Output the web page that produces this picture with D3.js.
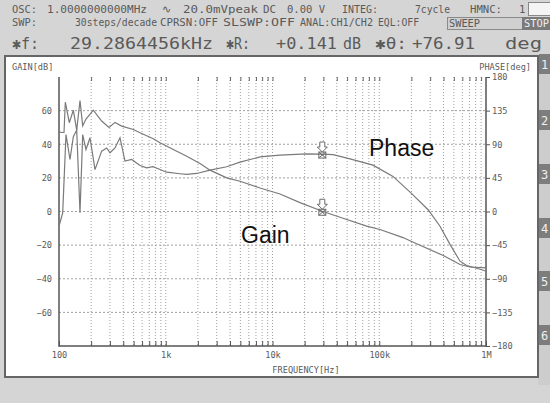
<!DOCTYPE html>
<html>
<head>
<meta charset="utf-8">
<script src="https://cdn.jsdelivr.net/npm/d3@7/dist/d3.min.js"></script>
<style>
  html, body { margin: 0; padding: 0; background: #d5d5d5; }
  svg { display: block; }
  text { font-family: "DejaVu Sans Mono", monospace; }
  text.trace-name { font-family: "Liberation Sans", Arial, sans-serif; }
</style>
</head>
<body>
<svg id="chart" width="550" height="403"></svg>
<script>
// Gain trace: sweep frequency (Hz) and measured gain (dB)
const gainFreq = [100, 106.7, 111.4, 114.6, 124.9, 136.2, 146.5, 157.3, 166.7, 179, 209.6, 251, 294, 334.6, 386.7, 496.6, 573.8, 764.4, 883.5, 1177, 1572, 2094, 2597, 3724, 4962, 7637, 11760, 18095, 29286.4456, 42880, 76270, 101600, 166900, 208400, 398100, 570700, 708300, 1000000];
const gainDb   = [47.4, 47, 47, 65, 52.8, 60.3, 48.4, 66, 51, 55, 60.3, 53.8, 50, 53, 50.8, 48.8, 46.8, 43.3, 40.9, 36.9, 32.9, 28.6, 24.6, 20, 18, 14, 10.4, 5.3, 0.141, -3.4, -8.7, -10.7, -15.5, -18.3, -26.2, -31.5, -33, -33.5];

// Phase trace: sweep frequency (Hz) and measured phase (deg)
const phaseFreq = [100, 108.3, 116.3, 126.8, 136.2, 146.5, 157.3, 166.7, 179, 195.2, 217.4, 251, 279.8, 300.5, 334.6, 372.7, 415.2, 479.7, 573.8, 663, 759.5, 883.5, 1021, 1360, 1572, 1949, 2597, 3724, 4962, 7637, 11760, 20910, 29286.4456, 36870, 53210, 87400, 134500, 201400, 288100, 370700, 460100, 570700, 659500, 734600, 911300, 1000000];
const phaseDeg  = [-19.7, -1.8, 103, 69.6, 100, 109, -1.8, 103, 83, 98.7, 56, 80.8, 85, 78.6, 85, 98.7, 67.4, 69.6, 61.6, 58.5, 59.9, 56.2, 52.6, 50.5, 49.6, 50.9, 55.3, 59.9, 66, 73, 75.5, 77, 76.91, 76, 70.5, 62, 47, 24, 2, -19.7, -44, -66.5, -72.3, -74, -78, -80];

// Marker readout
const markerFreq = 29286.4456;
const markerGain = 0.141;
const markerPhase = 76.91;

// Axis ticks
const gainTicks = [60, 40, 20, 0, -20, -40, -60];
const phaseTicks = [180, 135, 90, 45, 0, -45, -90, -135, -180];
const freqLabels = { 100: "100", 1000: "1k", 10000: "10k", 100000: "100k", 1000000: "1M" };

const svg = d3.select("#chart");
const TXT = "#5a5a5a";
const TRACE = "#7a7a7a";

const x = d3.scaleLog().domain([100, 1e6]).range([59, 486]);
const yG = d3.scaleLinear().domain([-80, 80]).range([346, 77]);
const yP = d3.scaleLinear().domain([-180, 180]).range([346, 77]);

// ---------- status header ----------
function hText(str, xx, yy, size, len) {
  const t = svg.append("text").attr("x", xx).attr("y", yy)
    .attr("font-size", size).attr("fill", TXT)
    .attr("xml:space", "preserve").text(str);
  if (len) t.attr("textLength", len).attr("lengthAdjust", "spacingAndGlyphs");
  return t;
}
// line 1
hText("OSC:", 12, 13, 10.5, 25);
hText("1.0000000000MHz", 47, 13, 10.5, 100);
hText("∿", 162, 13, 11);
hText("20.0mVpeak", 183, 13, 10.5, 75);
hText("DC", 263, 13, 10.5, 13);
hText("0.00 V", 287, 13, 10.5, 38);
hText("INTEG:", 342, 13, 10.5, 36);
hText("7cycle", 415, 13, 10.5, 35);
hText("HMNC:", 470, 13, 10.5, 32);
hText("1", 519, 13, 10.5);
svg.append("rect").attr("x", 528.5).attr("y", 2.5).attr("width", 24).attr("height", 13)
  .attr("fill", "#f4f4f4").attr("stroke", "#888");
// line 2
hText("SWP:", 12, 26, 10.5, 25);
hText("30steps/decade", 75, 26, 10.5, 82);
hText("CPRSN:OFF", 160, 26, 10.5, 58);
hText("SLSWP:OFF", 223, 26, 10.5, 72);
hText("ANAL:CH1/CH2", 300, 26, 10.5, 73);
hText("EQL:OFF", 378, 26, 10.5, 41);
svg.append("rect").attr("x", 447.5).attr("y", 17.5).attr("width", 75).attr("height", 12)
  .attr("fill", "#d0d0d0").attr("stroke", "#8a8a8a");
hText("SWEEP", 449, 27, 10, 31);
svg.append("rect").attr("x", 522).attr("y", 17).attr("width", 28).attr("height", 13)
  .attr("fill", "#7a7a7a");
svg.append("text").attr("x", 524).attr("y", 27).attr("font-size", 10)
  .attr("fill", "#eeeeee").attr("textLength", 25).attr("lengthAdjust", "spacingAndGlyphs").text("STOP");
// line 3
hText("✱f:", 12, 49, 16, 27);
hText("29.2864456kHz", 70, 49, 16, 143);
hText("✱R:", 226, 49, 16, 24);
hText("+0.141", 276, 49, 16, 61);
hText("dB", 343, 49, 16, 18);
hText("✱θ:", 375, 49, 16, 32);
hText("+76.91", 412, 49, 16, 63);
hText("deg", 505, 49, 16, 37);

// ---------- side tabs ----------
svg.append("rect").attr("x", 538).attr("y", 55).attr("width", 12).attr("height", 330).attr("fill", "#cdcdcd");
const tabCenters = [64, 120, 174, 228, 281, 335];
tabCenters.forEach((cy, i) => {
  svg.append("rect").attr("x", 539).attr("y", cy - 10).attr("width", 11).attr("height", 20).attr("fill", "#7d7d7d");
  svg.append("text").attr("x", 544.5).attr("y", cy + 4.5).attr("text-anchor", "middle")
    .attr("font-size", 12).attr("fill", "#f0f0f0").text(String(i + 1));
});

// ---------- white panel ----------
svg.append("rect").attr("x", 5).attr("y", 56).attr("width", 533).attr("height", 321)
  .attr("fill", "#ffffff").attr("stroke", "#666").attr("stroke-width", 2);

// ---------- grid ----------
const gridFreqs = x.ticks().filter(f => f > 100 && f < 1e6);
const g = svg.append("g");
g.selectAll(".vg").data(gridFreqs).join("line")
  .attr("x1", d => x(d)).attr("x2", d => x(d))
  .attr("y1", 77).attr("y2", 346)
  .attr("stroke", "#a0a0a0").attr("stroke-width", 1).attr("stroke-dasharray", "1,2");
g.selectAll(".hg").data(gainTicks).join("line")
  .attr("x1", 59).attr("x2", 486)
  .attr("y1", d => yG(d)).attr("y2", d => yG(d))
  .attr("stroke", "#a0a0a0").attr("stroke-width", 1).attr("stroke-dasharray", "2,2");

// ---------- axes ----------
const axBottom = d3.axisBottom(x).tickValues(gridFreqs.concat([100, 1e6]))
  .tickSizeInner(-5).tickSizeOuter(0).tickPadding(6)
  .tickFormat(d => freqLabels[Math.round(d)] || "");
const gb = svg.append("g").attr("transform", "translate(0,346)").call(axBottom);
const axTop = d3.axisTop(x).tickValues(gridFreqs).tickSizeInner(-4).tickSizeOuter(0).tickFormat("");
const gt = svg.append("g").attr("transform", "translate(0,77)").call(axTop);
const axLeft = d3.axisLeft(yG).tickValues(gainTicks).tickSize(0).tickPadding(7);
const gl = svg.append("g").attr("transform", "translate(59,0)").call(axLeft);
const axRight = d3.axisRight(yP).tickValues(phaseTicks).tickSizeInner(4).tickSizeOuter(0).tickPadding(2);
const gr = svg.append("g").attr("transform", "translate(486,0)").call(axRight);

[gb, gt, gl, gr].forEach(a => {
  a.select(".domain").remove();
  a.selectAll("line").attr("stroke", "#555");
  a.selectAll("text").attr("font-family", "DejaVu Sans Mono, monospace")
    .attr("font-size", 8.6).attr("fill", TXT);
});
gt.selectAll("line").attr("stroke", "#666");

// frame lines
svg.append("line").attr("x1", 59).attr("x2", 59).attr("y1", 77).attr("y2", 346.5).attr("stroke", "#555").attr("stroke-width", 1.5);
svg.append("line").attr("x1", 486).attr("x2", 486).attr("y1", 77).attr("y2", 346.5).attr("stroke", "#555").attr("stroke-width", 1.5);
svg.append("line").attr("x1", 58.5).attr("x2", 486.5).attr("y1", 346).attr("y2", 346).attr("stroke", "#555").attr("stroke-width", 1.5);

// axis titles
svg.append("text").attr("x", 12).attr("y", 70).attr("font-size", 8.6).attr("fill", TXT).text("GAIN[dB]");
svg.append("text").attr("x", 531).attr("y", 70).attr("text-anchor", "end").attr("font-size", 8.6).attr("fill", TXT).text("PHASE[deg]");
svg.append("text").attr("x", 306).attr("y", 373).attr("text-anchor", "middle").attr("font-size", 8.6).attr("fill", TXT).text("FREQUENCY[Hz]");

// ---------- traces ----------
const gainData = gainFreq.map((f, i) => ({ f, v: gainDb[i] }));
const phaseData = phaseFreq.map((f, i) => ({ f, v: phaseDeg[i] }));
svg.append("path").datum(gainData)
  .attr("d", d3.line().x(d => x(d.f)).y(d => yG(d.v)))
  .attr("fill", "none").attr("stroke", TRACE).attr("stroke-width", 1.2);
svg.append("path").datum(phaseData)
  .attr("d", d3.line().x(d => x(d.f)).y(d => yP(d.v)))
  .attr("fill", "none").attr("stroke", TRACE).attr("stroke-width", 1.2);

// ---------- markers ----------
function marker(px, py) {
  const m = svg.append("g").attr("transform", `translate(${px},${py})`)
    .attr("fill", "#fff").attr("stroke", "#6a6a6a").attr("stroke-width", 1);
  m.append("path").attr("d", "M-2.5,-12 L2.5,-12 L2.5,-7 L5,-7 L0,-2 L-5,-7 L-2.5,-7 Z");
  m.append("rect").attr("x", -3.5).attr("y", -2).attr("width", 7).attr("height", 6).attr("fill", "none");
  m.append("path").attr("d", "M-3.5,-2 L3.5,4 M3.5,-2 L-3.5,4").attr("fill", "none");
}
marker(x(markerFreq), yP(markerPhase));
marker(x(markerFreq), yG(markerGain));

// ---------- trace names ----------
svg.append("text").attr("class", "trace-name").attr("x", 369).attr("y", 156)
  .attr("font-size", 23).attr("fill", "#111").text("Phase");
svg.append("text").attr("class", "trace-name").attr("x", 241).attr("y", 243)
  .attr("font-size", 23).attr("fill", "#111").text("Gain");
</script>
</body>
</html>
